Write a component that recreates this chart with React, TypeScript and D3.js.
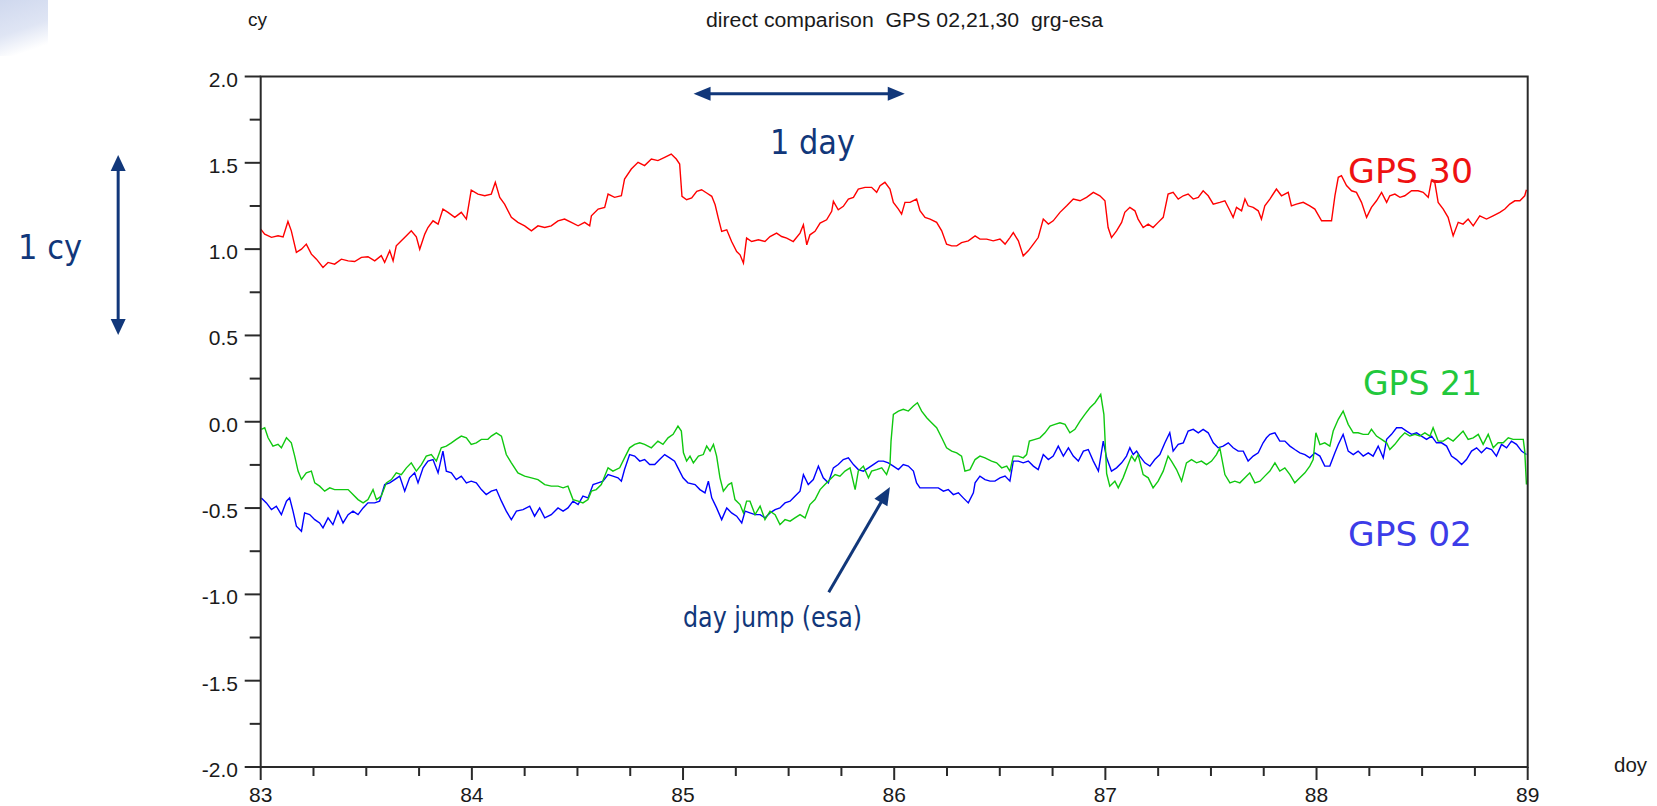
import React from 'react';
import * as d3 from 'd3';

// ---------- data (day of year, cycles) ----------
const GPS30: [number, number][] = [
[83.000,1.116],[83.019,1.087],[83.051,1.068],[83.082,1.077],[83.106,1.071],[83.129,1.160],[83.145,1.106],[83.169,0.981],[83.193,1.000],[83.216,1.029],[83.240,0.971],[83.264,0.942],[83.295,0.894],[83.319,0.923],[83.350,0.913],[83.382,0.942],[83.414,0.932],[83.445,0.928],[83.477,0.952],[83.508,0.956],[83.540,0.932],[83.571,0.962],[83.587,0.923],[83.611,0.991],[83.627,0.932],[83.642,1.019],[83.666,1.048],[83.690,1.077],[83.713,1.106],[83.737,1.071],[83.753,0.999],[83.777,1.087],[83.792,1.125],[83.816,1.164],[83.840,1.145],[83.863,1.232],[83.887,1.213],[83.919,1.184],[83.950,1.213],[83.974,1.174],[83.997,1.342],[84.029,1.319],[84.061,1.309],[84.092,1.319],[84.111,1.387],[84.132,1.300],[84.155,1.261],[84.187,1.184],[84.218,1.155],[84.250,1.135],[84.282,1.106],[84.313,1.135],[84.345,1.125],[84.376,1.135],[84.408,1.164],[84.439,1.174],[84.471,1.155],[84.503,1.135],[84.534,1.155],[84.558,1.135],[84.566,1.193],[84.598,1.232],[84.629,1.242],[84.645,1.319],[84.676,1.300],[84.708,1.309],[84.723,1.406],[84.755,1.464],[84.787,1.503],[84.818,1.484],[84.850,1.522],[84.881,1.513],[84.913,1.532],[84.944,1.551],[84.968,1.522],[84.984,1.493],[84.995,1.306],
[85.017,1.286],[85.041,1.296],[85.065,1.335],[85.088,1.344],[85.112,1.325],[85.136,1.306],[85.152,1.257],[85.167,1.180],[85.183,1.103],[85.207,1.112],[85.230,1.044],[85.254,0.986],[85.270,0.967],[85.286,0.919],[85.301,1.064],[85.325,1.044],[85.357,1.054],[85.388,1.044],[85.412,1.073],[85.443,1.093],[85.467,1.073],[85.491,1.064],[85.522,1.044],[85.554,1.093],[85.570,1.141],[85.586,1.025],[85.601,1.083],[85.625,1.103],[85.649,1.151],[85.680,1.170],[85.704,1.219],[85.712,1.277],[85.735,1.228],[85.759,1.248],[85.783,1.290],[85.807,1.300],[85.830,1.348],[85.862,1.358],[85.893,1.358],[85.917,1.329],[85.933,1.367],[85.956,1.387],[85.980,1.348],[85.996,1.271],[86.020,1.232],[86.035,1.203],[86.051,1.271],[86.075,1.271],[86.106,1.290],[86.122,1.222],[86.146,1.184],[86.170,1.174],[86.201,1.155],[86.225,1.106],[86.248,1.029],[86.272,1.019],[86.296,1.019],[86.319,1.038],[86.351,1.048],[86.383,1.077],[86.406,1.058],[86.438,1.058],[86.469,1.048],[86.501,1.058],[86.525,1.029],[86.548,1.067],[86.564,1.096],[86.588,1.048],[86.611,0.961],[86.635,0.990],[86.659,1.029],[86.682,1.067],[86.706,1.174],[86.730,1.145],[86.753,1.164],[86.785,1.213],[86.817,1.251],[86.848,1.290],[86.880,1.280],[86.911,1.300],[86.943,1.329],[86.974,1.309],[86.998,1.280],
[87.013,1.125],[87.029,1.067],[87.053,1.106],[87.077,1.155],[87.092,1.213],[87.116,1.242],[87.140,1.222],[87.155,1.174],[87.179,1.125],[87.203,1.145],[87.226,1.125],[87.250,1.155],[87.274,1.184],[87.297,1.319],[87.321,1.329],[87.345,1.290],[87.369,1.309],[87.392,1.319],[87.416,1.290],[87.440,1.300],[87.463,1.338],[87.487,1.309],[87.511,1.261],[87.542,1.271],[87.566,1.280],[87.590,1.222],[87.605,1.184],[87.621,1.242],[87.645,1.222],[87.661,1.290],[87.676,1.251],[87.700,1.242],[87.724,1.222],[87.739,1.174],[87.755,1.251],[87.779,1.290],[87.810,1.348],[87.834,1.309],[87.866,1.329],[87.881,1.251],[87.905,1.261],[87.937,1.271],[87.968,1.251],[87.992,1.232],[88.024,1.164],[88.047,1.164],[88.071,1.164],[88.087,1.309],[88.103,1.416],[88.118,1.426],[88.142,1.368],[88.166,1.338],[88.189,1.329],[88.213,1.271],[88.237,1.184],[88.260,1.242],[88.284,1.280],[88.308,1.329],[88.332,1.271],[88.347,1.309],[88.371,1.319],[88.395,1.300],[88.418,1.309],[88.450,1.338],[88.481,1.338],[88.505,1.329],[88.529,1.300],[88.544,1.397],[88.560,1.387],[88.576,1.271],[88.600,1.232],[88.623,1.184],[88.647,1.077],[88.671,1.155],[88.694,1.145],[88.718,1.174],[88.742,1.135],[88.773,1.193],[88.805,1.174],[88.836,1.193],[88.868,1.213],[88.892,1.232],[88.915,1.261],[88.939,1.280],[88.963,1.280],[88.986,1.309],[88.994,1.344]
];

const GPS21: [number, number][] = [
[83.003,-0.044],[83.019,-0.035],[83.035,-0.093],[83.058,-0.141],[83.082,-0.131],[83.098,-0.151],[83.122,-0.093],[83.145,-0.122],[83.161,-0.199],[83.177,-0.286],[83.193,-0.334],[83.216,-0.296],[83.240,-0.286],[83.256,-0.354],[83.279,-0.373],[83.303,-0.402],[83.327,-0.383],[83.350,-0.393],[83.382,-0.393],[83.414,-0.393],[83.437,-0.422],[83.461,-0.451],[83.485,-0.470],[83.508,-0.451],[83.532,-0.393],[83.548,-0.451],[83.571,-0.431],[83.595,-0.354],[83.619,-0.335],[83.642,-0.296],[83.666,-0.306],[83.690,-0.267],[83.713,-0.238],[83.737,-0.286],[83.761,-0.248],[83.784,-0.199],[83.808,-0.190],[83.832,-0.228],[83.855,-0.151],[83.879,-0.141],[83.903,-0.122],[83.926,-0.102],[83.950,-0.083],[83.974,-0.093],[83.997,-0.131],[84.021,-0.122],[84.045,-0.102],[84.076,-0.102],[84.092,-0.083],[84.116,-0.064],[84.140,-0.083],[84.163,-0.190],[84.187,-0.238],[84.218,-0.296],[84.250,-0.315],[84.282,-0.325],[84.313,-0.335],[84.345,-0.364],[84.376,-0.373],[84.408,-0.373],[84.432,-0.383],[84.455,-0.373],[84.479,-0.451],[84.503,-0.460],[84.526,-0.470],[84.550,-0.451],[84.566,-0.402],[84.589,-0.393],[84.613,-0.364],[84.645,-0.267],[84.668,-0.286],[84.700,-0.267],[84.723,-0.209],[84.747,-0.151],[84.771,-0.131],[84.795,-0.122],[84.818,-0.131],[84.850,-0.151],[84.881,-0.112],[84.905,-0.131],[84.929,-0.093],[84.953,-0.073],[84.976,-0.025],[84.992,-0.054],
[85.002,-0.180],[85.017,-0.228],[85.033,-0.199],[85.049,-0.238],[85.073,-0.199],[85.096,-0.190],[85.112,-0.141],[85.128,-0.170],[85.144,-0.131],[85.159,-0.199],[85.175,-0.325],[85.191,-0.402],[85.215,-0.364],[85.230,-0.354],[85.246,-0.451],[85.270,-0.480],[85.286,-0.528],[85.301,-0.460],[85.317,-0.460],[85.341,-0.538],[85.365,-0.489],[85.388,-0.567],[85.412,-0.518],[85.436,-0.538],[85.459,-0.596],[85.483,-0.567],[85.507,-0.576],[85.530,-0.557],[85.554,-0.538],[85.578,-0.557],[85.601,-0.480],[85.625,-0.451],[85.649,-0.393],[85.672,-0.364],[85.696,-0.335],[85.720,-0.306],[85.743,-0.315],[85.767,-0.286],[85.791,-0.267],[85.815,-0.393],[85.830,-0.286],[85.854,-0.257],[85.878,-0.325],[85.893,-0.286],[85.917,-0.277],[85.941,-0.267],[85.964,-0.306],[85.980,-0.248],[85.985,-0.112],[85.996,0.043],[86.020,0.062],[86.043,0.072],[86.067,0.062],[86.091,0.091],[86.110,0.110],[86.130,0.062],[86.154,0.023],[86.177,-0.006],[86.201,-0.035],[86.225,-0.093],[86.248,-0.151],[86.272,-0.170],[86.296,-0.180],[86.319,-0.199],[86.335,-0.286],[86.359,-0.277],[86.383,-0.219],[86.406,-0.199],[86.430,-0.209],[86.461,-0.228],[86.485,-0.238],[86.509,-0.267],[86.533,-0.257],[86.548,-0.286],[86.564,-0.199],[86.588,-0.199],[86.611,-0.209],[86.627,-0.190],[86.640,-0.112],[86.667,-0.102],[86.690,-0.093],[86.714,-0.064],[86.738,-0.025],[86.761,-0.015],[86.785,-0.006],[86.809,-0.015],[86.832,-0.064],[86.856,-0.044],[86.880,0.004],[86.903,0.043],[86.927,0.081],[86.951,0.110],[86.978,0.159],[86.993,0.043],[87.006,-0.300],
[87.021,-0.373],[87.045,-0.344],[87.061,-0.383],[87.084,-0.325],[87.108,-0.248],[87.124,-0.199],[87.140,-0.228],[87.155,-0.190],[87.179,-0.306],[87.203,-0.325],[87.226,-0.383],[87.250,-0.344],[87.274,-0.286],[87.297,-0.199],[87.313,-0.228],[87.337,-0.277],[87.361,-0.344],[87.384,-0.238],[87.408,-0.219],[87.432,-0.238],[87.455,-0.228],[87.479,-0.248],[87.503,-0.228],[87.526,-0.190],[87.542,-0.151],[87.566,-0.306],[87.590,-0.354],[87.613,-0.344],[87.637,-0.354],[87.661,-0.325],[87.684,-0.296],[87.708,-0.354],[87.732,-0.344],[87.755,-0.315],[87.779,-0.286],[87.803,-0.238],[87.826,-0.286],[87.850,-0.267],[87.874,-0.306],[87.897,-0.354],[87.921,-0.325],[87.945,-0.296],[87.968,-0.257],[87.984,-0.219],[87.997,-0.064],[88.016,-0.132],[88.039,-0.122],[88.063,-0.141],[88.079,-0.054],[88.103,0.014],[88.126,0.062],[88.150,-0.015],[88.174,-0.064],[88.197,-0.064],[88.221,-0.073],[88.245,-0.073],[88.260,-0.044],[88.284,-0.083],[88.308,-0.102],[88.332,-0.122],[88.347,-0.161],[88.371,-0.131],[88.395,-0.093],[88.418,-0.064],[88.442,-0.083],[88.466,-0.073],[88.489,-0.083],[88.513,-0.064],[88.537,-0.083],[88.552,-0.035],[88.576,-0.112],[88.600,-0.112],[88.623,-0.093],[88.647,-0.112],[88.671,-0.083],[88.694,-0.054],[88.718,-0.102],[88.742,-0.093],[88.766,-0.073],[88.789,-0.131],[88.813,-0.073],[88.837,-0.151],[88.860,-0.122],[88.884,-0.122],[88.908,-0.093],[88.931,-0.102],[88.955,-0.102],[88.979,-0.102],[88.986,-0.170],[88.994,-0.363]
];

const GPS02: [number, number][] = [
[83.003,-0.441],[83.027,-0.470],[83.051,-0.509],[83.074,-0.489],[83.098,-0.538],[83.122,-0.460],[83.137,-0.441],[83.153,-0.518],[83.169,-0.605],[83.193,-0.634],[83.208,-0.528],[83.232,-0.538],[83.256,-0.567],[83.279,-0.586],[83.295,-0.615],[83.319,-0.557],[83.342,-0.596],[83.366,-0.518],[83.390,-0.586],[83.414,-0.538],[83.437,-0.518],[83.461,-0.538],[83.485,-0.499],[83.508,-0.470],[83.540,-0.470],[83.563,-0.460],[83.587,-0.364],[83.611,-0.354],[83.634,-0.335],[83.658,-0.315],[83.682,-0.402],[83.705,-0.325],[83.729,-0.296],[83.745,-0.354],[83.769,-0.267],[83.792,-0.228],[83.816,-0.219],[83.840,-0.296],[83.863,-0.170],[83.879,-0.286],[83.903,-0.296],[83.926,-0.335],[83.950,-0.315],[83.974,-0.354],[83.997,-0.344],[84.021,-0.354],[84.045,-0.393],[84.068,-0.422],[84.092,-0.402],[84.116,-0.393],[84.140,-0.460],[84.163,-0.518],[84.187,-0.567],[84.211,-0.518],[84.242,-0.509],[84.274,-0.489],[84.297,-0.547],[84.321,-0.499],[84.345,-0.557],[84.376,-0.538],[84.408,-0.499],[84.432,-0.518],[84.455,-0.499],[84.479,-0.460],[84.503,-0.480],[84.526,-0.431],[84.550,-0.441],[84.574,-0.364],[84.598,-0.354],[84.621,-0.344],[84.645,-0.306],[84.668,-0.315],[84.692,-0.325],[84.708,-0.344],[84.723,-0.277],[84.747,-0.190],[84.771,-0.199],[84.795,-0.228],[84.818,-0.219],[84.842,-0.248],[84.866,-0.248],[84.889,-0.219],[84.913,-0.190],[84.937,-0.209],[84.960,-0.228],[84.976,-0.267],[85.000,-0.325],[85.023,-0.354],
[85.057,-0.364],[85.080,-0.393],[85.104,-0.412],[85.120,-0.344],[85.136,-0.441],[85.159,-0.499],[85.183,-0.567],[85.207,-0.499],[85.230,-0.528],[85.254,-0.547],[85.278,-0.586],[85.294,-0.518],[85.317,-0.528],[85.341,-0.538],[85.365,-0.538],[85.388,-0.557],[85.412,-0.528],[85.436,-0.509],[85.459,-0.499],[85.483,-0.470],[85.507,-0.460],[85.530,-0.431],[85.554,-0.402],[85.570,-0.306],[85.593,-0.364],[85.617,-0.335],[85.641,-0.257],[85.664,-0.325],[85.688,-0.354],[85.712,-0.267],[85.735,-0.248],[85.759,-0.219],[85.783,-0.209],[85.807,-0.248],[85.830,-0.277],[85.854,-0.286],[85.878,-0.267],[85.901,-0.248],[85.925,-0.228],[85.949,-0.228],[85.972,-0.238],[85.996,-0.257],[86.020,-0.277],[86.043,-0.248],[86.067,-0.257],[86.091,-0.286],[86.106,-0.354],[86.122,-0.383],[86.154,-0.383],[86.185,-0.383],[86.209,-0.383],[86.233,-0.402],[86.256,-0.393],[86.280,-0.422],[86.304,-0.412],[86.327,-0.441],[86.351,-0.470],[86.375,-0.412],[86.383,-0.354],[86.406,-0.315],[86.430,-0.335],[86.454,-0.344],[86.477,-0.344],[86.501,-0.325],[86.525,-0.315],[86.548,-0.344],[86.564,-0.228],[86.588,-0.228],[86.611,-0.238],[86.635,-0.228],[86.659,-0.257],[86.682,-0.277],[86.706,-0.190],[86.730,-0.219],[86.753,-0.199],[86.777,-0.141],[86.801,-0.199],[86.825,-0.151],[86.848,-0.199],[86.872,-0.228],[86.896,-0.170],[86.919,-0.161],[86.943,-0.228],[86.967,-0.286],[86.990,-0.112],[87.006,-0.209],
[87.029,-0.286],[87.053,-0.267],[87.077,-0.238],[87.100,-0.199],[87.116,-0.151],[87.132,-0.190],[87.148,-0.170],[87.163,-0.199],[87.187,-0.238],[87.211,-0.257],[87.234,-0.219],[87.258,-0.190],[87.282,-0.122],[87.305,-0.064],[87.321,-0.170],[87.345,-0.131],[87.369,-0.122],[87.392,-0.054],[87.416,-0.044],[87.440,-0.064],[87.463,-0.044],[87.487,-0.064],[87.511,-0.122],[87.534,-0.151],[87.558,-0.141],[87.582,-0.122],[87.605,-0.151],[87.629,-0.170],[87.653,-0.170],[87.676,-0.228],[87.700,-0.199],[87.724,-0.180],[87.747,-0.122],[87.763,-0.093],[87.779,-0.073],[87.803,-0.064],[87.826,-0.112],[87.850,-0.112],[87.874,-0.141],[87.897,-0.161],[87.921,-0.180],[87.945,-0.190],[87.968,-0.209],[87.992,-0.180],[88.016,-0.199],[88.039,-0.257],[88.063,-0.257],[88.087,-0.180],[88.103,-0.132],[88.126,-0.073],[88.150,-0.170],[88.174,-0.190],[88.197,-0.170],[88.221,-0.199],[88.245,-0.180],[88.268,-0.199],[88.292,-0.141],[88.316,-0.209],[88.332,-0.102],[88.355,-0.073],[88.379,-0.035],[88.403,-0.035],[88.426,-0.054],[88.450,-0.073],[88.474,-0.064],[88.497,-0.083],[88.521,-0.102],[88.545,-0.083],[88.568,-0.122],[88.592,-0.122],[88.616,-0.141],[88.639,-0.199],[88.663,-0.219],[88.687,-0.248],[88.710,-0.219],[88.734,-0.170],[88.758,-0.151],[88.781,-0.180],[88.805,-0.151],[88.829,-0.161],[88.852,-0.199],[88.876,-0.131],[88.900,-0.151],[88.923,-0.112],[88.947,-0.131],[88.971,-0.170],[88.994,-0.190]
];

const X_DOMAIN: [number, number] = [83, 89];
const Y_DOMAIN: [number, number] = [-2, 2];
const X_MAJOR = [83, 84, 85, 86, 87, 88, 89];
const Y_MAJOR = [2.0, 1.5, 1.0, 0.5, 0.0, -0.5, -1.0, -1.5, -2.0];
const MINOR_STEP_X = 0.25;
const MINOR_STEP_Y = 0.25;

const TITLE = 'direct comparison  GPS 02,21,30  grg-esa';
const Y_UNIT = 'cy';
const X_UNIT = 'doy';

// annotation anchors in data units
const DAY_ARROW = { x0: 85.05, x1: 86.05, y: 1.9 };
const CY_ARROW = { x: 82.325, y0: 1.545, y1: 0.503 };
const JUMP_ARROW = { tipX: 85.98, tipY: -0.378, tailX: 85.69, tailY: -0.987 };

// ---------- layout ----------
const W = 1657;
const H = 806;
const PL = 260.7, PR = 1527.7, PT = 76.5, PB = 767;

const NAVY = '#11377a';
const AX = '#2a2a2a';

function head(tx: number, ty: number, fx: number, fy: number, len: number, half: number) {
  const dx = tx - fx, dy = ty - fy;
  const d = Math.hypot(dx, dy);
  const ux = dx / d, uy = dy / d;
  const bx = tx - ux * len, by = ty - uy * len;
  const px = -uy, py = ux;
  return `${tx},${ty} ${bx + px * half},${by + py * half} ${bx - px * half},${by - py * half}`;
}

export default function App() {
  const x = d3.scaleLinear().domain(X_DOMAIN).range([PL, PR]);
  const y = d3.scaleLinear().domain(Y_DOMAIN).range([PB, PT]);
  const line = d3.line<[number, number]>().x(d => x(d[0])).y(d => y(d[1]));

  const xMinor = d3.range(0, Math.round((X_DOMAIN[1] - X_DOMAIN[0]) / MINOR_STEP_X) + 1).map(i => X_DOMAIN[0] + i * MINOR_STEP_X);
  const yMinor = d3.range(0, Math.round((Y_DOMAIN[1] - Y_DOMAIN[0]) / MINOR_STEP_Y) + 1).map(i => Y_DOMAIN[0] + i * MINOR_STEP_Y);
  const isMajor = (v: number) => Math.abs(v - Math.round(v)) < 1e-6;
  const isMajorY = (v: number) => Math.abs(v * 2 - Math.round(v * 2)) < 1e-6;

  const tickFont = "'Liberation Sans', Arial, Helvetica, sans-serif";
  const annFont = "'DejaVu Sans', 'Open Sans', sans-serif";

  const dax0 = x(DAY_ARROW.x0), dax1 = x(DAY_ARROW.x1), day = y(DAY_ARROW.y);
  const cax = x(CY_ARROW.x), cay0 = y(CY_ARROW.y0), cay1 = y(CY_ARROW.y1);
  const jtx = x(JUMP_ARROW.tipX), jty = y(JUMP_ARROW.tipY), jfx = x(JUMP_ARROW.tailX), jfy = y(JUMP_ARROW.tailY);
  const jd = Math.hypot(jtx - jfx, jty - jfy);
  const jex = jtx - (jtx - jfx) / jd * 12, jey = jty - (jty - jfy) / jd * 12;

  return (
    <svg width={W} height={H} style={{ position: 'absolute', left: 0, top: 0, display: 'block', background: '#fff' }}>
      <defs>
        <linearGradient id="corner" x1="0" y1="0" x2="0.3" y2="1">
          <stop offset="0" stopColor="#cfd8ee" />
          <stop offset="0.6" stopColor="#dfe5f4" />
          <stop offset="1" stopColor="#ffffff" />
        </linearGradient>
        <clipPath id="plot">
          <rect x={PL} y={PT} width={PR - PL} height={PB - PT} />
        </clipPath>
      </defs>
      <rect x={0} y={0} width={W} height={H} fill="#fff" />
      <rect x={0} y={0} width={48} height={56} fill="url(#corner)" />

      {/* title & units */}
      <text x={706} y={27} fontFamily={tickFont} fontSize={20} fill="#1a1a1a" textLength={397} lengthAdjust="spacingAndGlyphs" style={{ whiteSpace: 'pre' }} xmlSpace="preserve">{TITLE}</text>
      <text x={248} y={26} fontFamily={tickFont} fontSize={19} fill="#1a1a1a">{Y_UNIT}</text>
      <text x={1614} y={772} fontFamily={tickFont} fontSize={21} fill="#1a1a1a" textLength={33} lengthAdjust="spacingAndGlyphs">{X_UNIT}</text>

      {/* series */}
      <g clipPath="url(#plot)" fill="none" strokeWidth={1.4} strokeLinejoin="miter">
        <path d={line(GPS30) || ''} stroke="#ff0000" />
        <path d={line(GPS02) || ''} stroke="#0000ff" />
        <path d={line(GPS21) || ''} stroke="#10c810" />
      </g>

      {/* frame */}
      <rect x={PL} y={PT} width={PR - PL} height={PB - PT} fill="none" stroke={AX} strokeWidth={2} />

      {/* y ticks */}
      {yMinor.map(v => (
        <line key={'yt' + v} x1={PL - (isMajorY(v) ? 16 : 11)} x2={PL} y1={y(v)} y2={y(v)} stroke={AX} strokeWidth={2} />
      ))}
      {Y_MAJOR.map(v => (
        <text key={'yl' + v} x={238} y={y(v) + 10} textAnchor="end" fontFamily={tickFont} fontSize={21} fill="#1a1a1a">{v.toFixed(1)}</text>
      ))}

      {/* x ticks */}
      {xMinor.map(v => (
        <line key={'xt' + v} x1={x(v)} x2={x(v)} y1={PB} y2={PB + (isMajor(v) ? 13 : 9)} stroke={AX} strokeWidth={2} />
      ))}
      {X_MAJOR.map(v => (
        <text key={'xl' + v} x={x(v)} y={802} textAnchor="middle" fontFamily={tickFont} fontSize={21} fill="#1a1a1a">{String(v)}</text>
      ))}

      {/* series labels */}
      <text x={1348} y={183} fontFamily={annFont} fontSize={34} fill="#ee1111" textLength={125} lengthAdjust="spacingAndGlyphs">GPS 30</text>
      <text x={1363} y={395} fontFamily={annFont} fontSize={34} fill="#22c83c" textLength={119} lengthAdjust="spacingAndGlyphs">GPS 21</text>
      <text x={1348} y={546} fontFamily={annFont} fontSize={34} fill="#3c3ce8" textLength={124} lengthAdjust="spacingAndGlyphs">GPS 02</text>

      {/* 1 day arrow */}
      <line x1={dax0 + 12} x2={dax1 - 12} y1={day} y2={day} stroke={NAVY} strokeWidth={3} />
      <polygon points={head(dax0, day, dax1, day, 17, 7)} fill={NAVY} />
      <polygon points={head(dax1, day, dax0, day, 17, 7)} fill={NAVY} />
      <text x={770} y={154} fontFamily={annFont} fontSize={34} fill={NAVY} textLength={85} lengthAdjust="spacingAndGlyphs">1 day</text>

      {/* 1 cy arrow */}
      <line x1={cax} x2={cax} y1={cay0 + 12} y2={cay1 - 12} stroke={NAVY} strokeWidth={3} />
      <polygon points={head(cax, cay0, cax, cay1, 16, 7.5)} fill={NAVY} />
      <polygon points={head(cax, cay1, cax, cay0, 16, 7.5)} fill={NAVY} />
      <text x={18} y={259} fontFamily={annFont} fontSize={34} fill={NAVY} textLength={64} lengthAdjust="spacingAndGlyphs">1 cy</text>

      {/* day jump arrow */}
      <line x1={jfx} y1={jfy} x2={jex} y2={jey} stroke={NAVY} strokeWidth={3} />
      <polygon points={head(jtx, jty, jfx, jfy, 18, 7.5)} fill={NAVY} />
      <text x={683} y={627} fontFamily={annFont} fontSize={28} fill={NAVY} textLength={179} lengthAdjust="spacingAndGlyphs">day jump (esa)</text>
    </svg>
  );
}
